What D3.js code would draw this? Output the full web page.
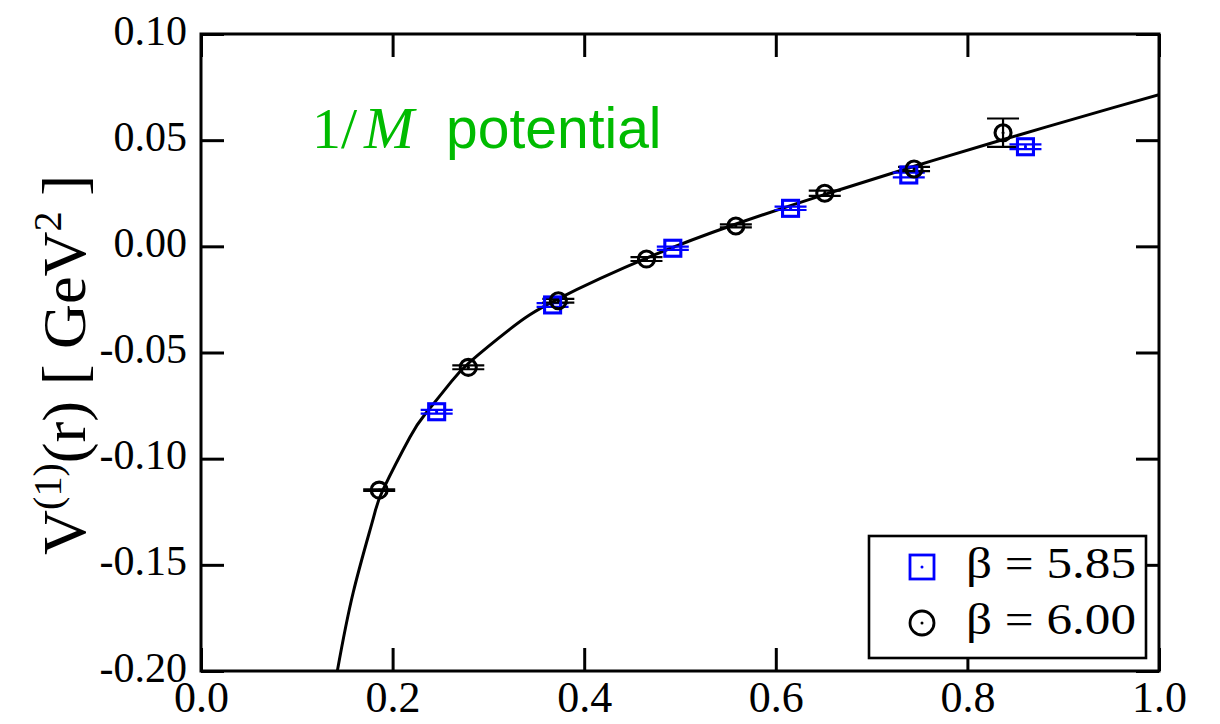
<!DOCTYPE html>
<html>
<head>
<meta charset="utf-8">
<script src="https://cdn.jsdelivr.net/npm/d3@7"></script>
<style>
  body { margin: 0; background: #fff; }
  svg { display: block; }
</style>
</head>
<body>
<svg id="chart" width="1220" height="724"></svg>
<script>
// Axis ticks and their labels
const xTicks = [0.0, 0.2, 0.4, 0.6, 0.8, 1.0];
const xTickLabels = ["0.0", "0.2", "0.4", "0.6", "0.8", "1.0"];
const yTicks = [-0.20, -0.15, -0.10, -0.05, 0.00, 0.05, 0.10];
const yTickLabels = ["-0.20", "-0.15", "-0.10", "-0.05", "0.00", "0.05", "0.10"];

// β = 5.85 : distance r [fm], V1(r) [GeV^2], error
const r585 = [0.246, 0.367, 0.4925, 0.6154, 0.7388, 0.8606];
const v585 = [-0.0779, -0.0276, -0.0009, 0.0179, 0.0336, 0.0469];
const e585 = [0.0009, 0.0009, 0.0008, 0.0008, 0.0011, 0.0011];

// β = 6.00
const r600 = [0.186, 0.279, 0.373, 0.465, 0.5583, 0.6511, 0.7443, 0.8372];
const v600 = [-0.1148, -0.0570, -0.0256, -0.0060, 0.0096, 0.0250, 0.0364, 0.0535];
const e600 = [0.0004, 0.0009, 0.0009, 0.0009, 0.0007, 0.0012, 0.0010, 0.0067];

// Fitted potential curve, sampled
const fitR = [0.1423, 0.1590, 0.1799, 0.1903, 0.2182, 0.2349, 0.2617, 0.2808, 0.3225, 0.3713,
              0.4687, 0.5585, 0.6514, 0.7446, 0.8375, 0.9523, 1.0];
const fitV = [-0.2000, -0.1628, -0.1280, -0.1143, -0.0898, -0.0785, -0.0635, -0.0544, -0.0390, -0.0251,
              -0.0049, 0.0105, 0.0245, 0.0377, 0.0503, 0.0653, 0.0714];

const seriesLabels = ["β = 5.85", "β = 6.00"];
const blue = "#0000ff";
const green = "#00bb00";
const serif = "'Liberation Serif', 'Times New Roman', serif";
const sans = "'Liberation Sans', Arial, sans-serif";

const svg = d3.select("#chart");
const x = d3.scaleLinear().domain([0, 1]).range([201, 1159]);
const y = d3.scaleLinear().domain([-0.20, 0.10]).range([671, 34]);
const [xl, xr] = x.range();
const [yb, yt] = y.range();

svg.append("defs").append("clipPath").attr("id", "plotClip")
  .append("rect").attr("x", xl).attr("y", yt).attr("width", xr - xl).attr("height", yb - yt);

// Axes with inward ticks on all four sides
const tick = 23;
function styleAxis(g) {
  g.select(".domain").remove();
  g.selectAll(".tick line").attr("stroke", "#000").attr("stroke-width", 3);
}
svg.append("g").attr("transform", `translate(0,${yb})`)
  .call(d3.axisBottom(x).tickValues(xTicks).tickSizeInner(-tick).tickSizeOuter(0)
    .tickPadding(10).tickFormat((d, i) => xTickLabels[i]))
  .call(styleAxis)
  .call(g => g.selectAll("text").attr("font-family", serif).attr("font-size", 44)
    .attr("fill", "#000").attr("dy", null).attr("y", 41));
svg.append("g").attr("transform", `translate(0,${yt})`)
  .call(d3.axisTop(x).tickValues(xTicks).tickSizeInner(-tick).tickSizeOuter(0).tickFormat(""))
  .call(styleAxis);
svg.append("g").attr("transform", `translate(${xl},0)`)
  .call(d3.axisLeft(y).tickValues(yTicks).tickSizeInner(-tick).tickSizeOuter(0)
    .tickPadding(14).tickFormat((d, i) => yTickLabels[i]))
  .call(styleAxis)
  .call(g => g.selectAll("text").attr("font-family", serif).attr("font-size", 42)
    .attr("fill", "#000").attr("dy", null).attr("y", 10));
svg.append("g").attr("transform", `translate(${xr},0)`)
  .call(d3.axisRight(y).tickValues(yTicks).tickSizeInner(-tick).tickSizeOuter(0).tickFormat(""))
  .call(styleAxis);

// Fit curve
const line = d3.line().x(d => x(d[0])).y(d => y(d[1])).curve(d3.curveNatural);
svg.append("path")
  .datum(fitR.map((r, i) => [r, fitV[i]]))
  .attr("clip-path", "url(#plotClip)")
  .attr("d", line).attr("fill", "none").attr("stroke", "#000").attr("stroke-width", 3);

// Error bars with caps
function errorBars(rs, vs, es, color) {
  const g = svg.append("g").attr("stroke", color).attr("stroke-width", 2.2);
  const cap = 16;
  rs.forEach((r, i) => {
    const cx = x(r), lo = y(vs[i] - es[i]), hi = y(vs[i] + es[i]);
    g.append("line").attr("x1", cx).attr("x2", cx).attr("y1", lo).attr("y2", hi);
    g.append("line").attr("x1", cx - cap).attr("x2", cx + cap).attr("y1", lo).attr("y2", lo);
    g.append("line").attr("x1", cx - cap).attr("x2", cx + cap).attr("y1", hi).attr("y2", hi);
  });
}
errorBars(r585, v585, e585, blue);
errorBars(r600, v600, e600, "#000");

function square(g, cx, cy, s, w) {
  g.append("rect").attr("x", cx - s / 2).attr("y", cy - s / 2).attr("width", s).attr("height", s)
    .attr("fill", "none").attr("stroke", blue).attr("stroke-width", w);
  g.append("circle").attr("cx", cx).attr("cy", cy).attr("r", 1.5).attr("fill", blue);
}
function ring(g, cx, cy, rad, w) {
  g.append("circle").attr("cx", cx).attr("cy", cy).attr("r", rad)
    .attr("fill", "none").attr("stroke", "#000").attr("stroke-width", w);
  g.append("circle").attr("cx", cx).attr("cy", cy).attr("r", 1.5).attr("fill", "#000");
}
const marks = svg.append("g");
r585.forEach((r, i) => square(marks, x(r), y(v585[i]), 16, 3.1));
r600.forEach((r, i) => ring(marks, x(r), y(v600[i]), 8, 3.1));

// Frame
svg.append("rect").attr("x", xl).attr("y", yt).attr("width", xr - xl).attr("height", yb - yt)
  .attr("fill", "none").attr("stroke", "#000").attr("stroke-width", 3);

// Annotation "1/M potential"
const ann = svg.append("g").attr("fill", green);
ann.append("text").attr("x", 312).attr("y", 148).attr("font-family", serif).attr("font-size", 58).text("1/");
ann.append("text").attr("x", 364).attr("y", 148).attr("font-family", serif).attr("font-style", "italic")
  .attr("font-size", 60).text("M");
ann.append("text").attr("x", 446).attr("y", 148).attr("font-family", sans).attr("font-size", 57).text("potential");

// Y axis title
const yTitle = svg.append("text")
  .attr("transform", "translate(85,365) rotate(-90)")
  .attr("text-anchor", "middle").attr("font-family", serif).attr("font-size", 62)
  .attr("textLength", 380).attr("lengthAdjust", "spacingAndGlyphs");
yTitle.append("tspan").text("V");
yTitle.append("tspan").attr("font-size", 40).attr("dy", -24).text("(1)");
yTitle.append("tspan").attr("dy", 24).text("(r) [ GeV");
yTitle.append("tspan").attr("font-size", 40).attr("dy", -24).text("2");
yTitle.append("tspan").attr("dy", 24).text(" ]");

// Legend
const lg = svg.append("g");
lg.append("rect").attr("x", 869).attr("y", 536).attr("width", 277).attr("height", 122)
  .attr("fill", "#fff").attr("stroke", "#000").attr("stroke-width", 2.6);
square(lg, 922, 567, 24, 2.8);
ring(lg, 922, 623, 12, 2.8);
seriesLabels.forEach((t, i) => {
  lg.append("text").attr("x", 966).attr("y", 578 + i * 56).attr("font-family", serif)
    .attr("font-size", 44).attr("textLength", 170).attr("lengthAdjust", "spacingAndGlyphs").text(t);
});
</script>
</body>
</html>
